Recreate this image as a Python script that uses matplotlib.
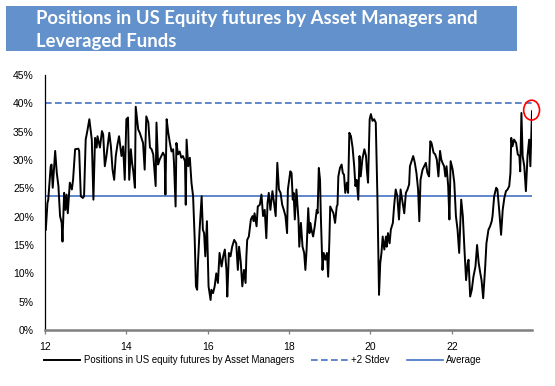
"""
Positions in US equity futures by asset managers and leveraged funds,
with long run average and +2 stdev band.
"""
import matplotlib
matplotlib.use("Agg")
import matplotlib.pyplot as plt
from matplotlib.patches import Ellipse, Rectangle

# Data ------------------------------------------------------------------------

dates = [
    2012.02, 2012.06, 2012.08, 2012.14, 2012.16, 2012.19, 2012.25, 2012.29,
    2012.33, 2012.37, 2012.41, 2012.43, 2012.47, 2012.50, 2012.53, 2012.56,
    2012.61, 2012.66, 2012.69, 2012.74, 2012.82, 2012.84, 2012.88, 2012.93,
    2012.96, 2013.00, 2013.04, 2013.09, 2013.15, 2013.19, 2013.23, 2013.27,
    2013.29, 2013.35, 2013.40, 2013.43, 2013.47, 2013.51, 2013.58, 2013.62,
    2013.66, 2013.70, 2013.74, 2013.78, 2013.82, 2013.88, 2013.92, 2013.96,
    2014.00, 2014.04, 2014.07, 2014.11, 2014.14, 2014.17, 2014.21, 2014.23,
    2014.29, 2014.33, 2014.37, 2014.41, 2014.45, 2014.49, 2014.54, 2014.58,
    2014.62, 2014.66, 2014.72, 2014.74, 2014.78, 2014.82, 2014.86, 2014.90,
    2014.94, 2014.96, 2014.99, 2015.03, 2015.07, 2015.11, 2015.15, 2015.17,
    2015.21, 2015.23, 2015.27, 2015.31, 2015.35, 2015.39, 2015.44, 2015.46,
    2015.48, 2015.52, 2015.56, 2015.60, 2015.64, 2015.68, 2015.71, 2015.74,
    2015.76, 2015.80, 2015.85, 2015.88, 2015.91, 2015.94, 2015.98, 2016.02,
    2016.07, 2016.09, 2016.13, 2016.17, 2016.21, 2016.25, 2016.29, 2016.34,
    2016.38, 2016.42, 2016.46, 2016.48, 2016.52, 2016.56, 2016.60, 2016.65,
    2016.70, 2016.74, 2016.77, 2016.81, 2016.85, 2016.89, 2016.93, 2016.95,
    2016.97, 2017.01, 2017.06, 2017.10, 2017.13, 2017.15, 2017.20, 2017.23,
    2017.28, 2017.32, 2017.36, 2017.40, 2017.44, 2017.47, 2017.50, 2017.54,
    2017.59, 2017.63, 2017.67, 2017.71, 2017.75, 2017.79, 2017.83, 2017.87,
    2017.91, 2017.95, 2017.97, 2018.03, 2018.06, 2018.09, 2018.11, 2018.14,
    2018.18, 2018.23, 2018.25, 2018.29, 2018.33, 2018.37, 2018.40, 2018.43,
    2018.47, 2018.50, 2018.52, 2018.55, 2018.59, 2018.63, 2018.68, 2018.70,
    2018.73, 2018.76, 2018.78, 2018.82, 2018.85, 2018.89, 2018.93, 2018.96,
    2018.99, 2019.01, 2019.05, 2019.09, 2019.13, 2019.17, 2019.19, 2019.21,
    2019.25, 2019.29, 2019.32, 2019.35, 2019.38, 2019.42, 2019.45, 2019.48,
    2019.52, 2019.56, 2019.60, 2019.63, 2019.66, 2019.70, 2019.73, 2019.76,
    2019.80, 2019.85, 2019.89, 2019.91, 2019.94, 2019.98, 2020.01, 2020.05,
    2020.09, 2020.13, 2020.17, 2020.21, 2020.24, 2020.27, 2020.30, 2020.34,
    2020.38, 2020.40, 2020.43, 2020.47, 2020.50, 2020.55, 2020.58, 2020.62,
    2020.66, 2020.70, 2020.74, 2020.79, 2020.83, 2020.87, 2020.91, 2020.95,
    2020.97, 2021.01, 2021.05, 2021.09, 2021.13, 2021.17, 2021.20, 2021.23,
    2021.28, 2021.32, 2021.36, 2021.40, 2021.44, 2021.47, 2021.50, 2021.55,
    2021.59, 2021.63, 2021.67, 2021.71, 2021.74, 2021.77, 2021.81, 2021.84,
    2021.87, 2021.91, 2021.94, 2021.97, 2022.02, 2022.06, 2022.10, 2022.14,
    2022.18, 2022.23, 2022.27, 2022.31, 2022.35, 2022.39, 2022.41, 2022.45,
    2022.49, 2022.53, 2022.58, 2022.62, 2022.66, 2022.70, 2022.73, 2022.77,
    2022.82, 2022.85, 2022.90, 2022.94, 2022.98, 2023.00, 2023.04, 2023.09,
    2023.12, 2023.17, 2023.21, 2023.25, 2023.29, 2023.33, 2023.37, 2023.41,
    2023.44, 2023.46, 2023.49, 2023.53, 2023.58, 2023.62, 2023.66, 2023.68,
    2023.71, 2023.74, 2023.78, 2023.82, 2023.86, 2023.90, 2023.93, 2023.97,
]

positions = [
    17.7, 22.4, 23.0, 28.9, 29.2, 25.1, 31.6, 27.7,
    25.4, 20.1, 18.9, 15.6, 24.2, 21.2, 23.9, 20.6,
    26.0, 24.8, 26.5, 31.9, 32.0, 31.6, 23.6, 23.3,
    23.6, 33.6, 35.1, 37.2, 33.6, 23.0, 33.9, 32.2,
    34.2, 32.2, 35.1, 34.5, 28.9, 30.7, 34.8, 32.4,
    28.3, 26.5, 30.7, 32.7, 34.2, 30.7, 32.4, 26.5,
    37.2, 37.5, 26.5, 31.9, 29.5, 28.0, 25.1, 39.4,
    35.4, 34.8, 33.9, 33.0, 28.3, 37.7, 36.6, 32.2,
    31.9, 31.0, 25.4, 36.6, 29.2, 30.1, 30.7, 31.3,
    30.7, 23.9, 37.2, 34.8, 33.0, 31.5, 31.9, 29.5,
    21.8, 33.0, 31.0, 31.5, 30.4, 30.7, 29.8, 22.1,
    33.6, 28.9, 30.4, 26.0, 23.6, 15.9, 7.7, 7.1,
    11.8, 17.7, 23.6, 17.7, 17.1, 13.0, 19.2, 7.7,
    5.3, 7.1, 6.5, 7.7, 10.0, 8.3, 13.6, 11.2,
    13.0, 14.2, 10.6, 5.9, 13.6, 13.0, 14.7, 15.9,
    15.3, 10.6, 14.7, 12.1, 7.7, 10.6, 8.3, 13.0,
    15.9, 16.5, 19.5, 20.1, 19.2, 20.6, 18.3, 21.8,
    22.1, 23.9, 20.1, 21.2, 16.2, 22.4, 24.2, 21.2,
    24.5, 22.4, 20.1, 29.5, 24.8, 24.2, 22.1, 21.2,
    20.1, 17.1, 24.8, 28.0, 27.7, 23.0, 24.2, 19.5,
    24.8, 19.5, 14.7, 18.9, 14.7, 13.6, 10.6, 14.2,
    21.5, 17.1, 18.9, 17.7, 16.5, 18.3, 21.2, 20.6,
    28.6, 26.5, 20.1, 10.6, 13.6, 12.4, 13.6, 9.4,
    15.9, 21.8, 21.2, 20.6, 18.9, 21.8, 22.1, 27.1,
    28.6, 29.2, 27.7, 27.4, 24.2, 26.0, 24.2, 34.8,
    34.2, 32.2, 28.9, 25.4, 26.5, 23.0, 30.7, 27.1,
    30.1, 31.9, 30.7, 28.3, 26.0, 37.2, 38.1, 36.9,
    37.2, 36.6, 23.6, 6.2, 11.8, 13.6, 16.5, 14.2,
    16.5, 14.7, 17.1, 15.3, 17.7, 18.9, 21.8, 24.8,
    23.6, 19.5, 24.8, 22.4, 20.6, 24.2, 24.8, 25.7,
    28.9, 29.8, 30.7, 29.5, 27.7, 24.8, 19.2, 26.5,
    28.3, 28.9, 29.5, 27.7, 27.1, 33.3, 33.0, 31.3,
    31.0, 30.1, 27.1, 31.6, 30.1, 29.5, 28.9, 27.1,
    28.9, 25.4, 19.5, 29.8, 28.3, 26.0, 20.1, 17.7,
    13.6, 23.0, 20.1, 14.2, 8.8, 11.8, 12.4, 5.9,
    7.1, 9.4, 11.2, 15.0, 11.8, 10.0, 8.8, 5.6,
    11.2, 15.3, 17.7, 18.3, 19.2, 20.1, 23.6, 25.1,
    24.8, 20.6, 16.8, 21.2, 23.3, 24.5, 24.8, 25.4,
    27.7, 33.9, 32.4, 33.6, 33.0, 31.0, 30.7, 28.0,
    38.3, 30.7, 28.9, 24.5, 30.7, 33.6, 28.9, 38.6,
]

AVERAGE = 23.7
PLUS_2_STDEV = 40.0

TITLE_LINES = ["Positions in US Equity futures by Asset Managers and",
               "Leveraged Funds"]
SERIES_LABEL = "Positions in US equity futures by Asset Managers"
STDEV_LABEL = "+2 Stdev"
AVERAGE_LABEL = "Average"

x_ticks = [2012, 2014, 2016, 2018, 2020, 2022]
x_tick_labels = ["12", "14", "16", "18", "20", "22"]
y_ticks = [0, 5, 10, 15, 20, 25, 30, 35, 40, 45]
y_tick_labels = ["{}%".format(v) for v in y_ticks]

# Plot ------------------------------------------------------------------------

LINE_BLUE = "#4472C4"
BANNER_BLUE = "#6391CB"
TITLE_WIDTH_PX = 442

plt.rcParams["font.family"] = ["Liberation Sans", "DejaVu Sans"]

fig = plt.figure(figsize=(5.55, 3.86), dpi=100)

# title banner
fig.patches.append(Rectangle((6 / 555, 1 - 51 / 386), 511 / 555, 45 / 386,
                             transform=fig.transFigure, facecolor=BANNER_BLUE,
                             edgecolor="none", zorder=0))
title_1 = fig.text(36 / 555, 1 - 24 / 386, TITLE_LINES[0], color="white",
                   fontsize=13, fontweight="bold",
                   family=["Lato", "DejaVu Sans"], va="baseline", ha="left")
title_2 = fig.text(36 / 555, 1 - 47.5 / 386, TITLE_LINES[1], color="white",
                   fontsize=13, fontweight="bold",
                   family=["Lato", "DejaVu Sans"], va="baseline", ha="left")
# size the bold title so the first line spans the banner like the original
renderer = fig.canvas.get_renderer()
width = title_1.get_window_extent(renderer).width
title_size = 13 * TITLE_WIDTH_PX / width
title_1.set_fontsize(title_size)
title_2.set_fontsize(title_size)

ax = fig.add_axes([45 / 555, 1 - 330 / 386, 487 / 555, 255 / 386])

ax.plot(dates, positions, color="black", lw=1.4, label=SERIES_LABEL,
        zorder=3)
ax.axhline(PLUS_2_STDEV, color=LINE_BLUE, lw=1.2, dashes=(4, 2),
           label=STDEV_LABEL, zorder=2)
ax.axhline(AVERAGE, color=LINE_BLUE, lw=1.2, label=AVERAGE_LABEL, zorder=2)

# highlight latest reading
ax.add_patch(Ellipse((dates[-1] - 0.01, positions[-1] + 0.2), 0.39, 3.5,
                     fill=False, edgecolor="red", lw=1.2, clip_on=False,
                     zorder=4))

ax.set_xlim(2012, dates[-1])
ax.set_ylim(0, 45)
ax.set_xticks(x_ticks)
ax.set_xticklabels(x_tick_labels)
ax.set_yticks(y_ticks)
ax.set_yticklabels(y_tick_labels)

ax.spines["top"].set_visible(False)
ax.spines["right"].set_visible(False)
ax.spines["left"].set_color("black")
ax.spines["left"].set_linewidth(0.9)
ax.spines["bottom"].set_color("#7f7f7f")
ax.spines["bottom"].set_linewidth(1.8)
ax.tick_params(axis="y", length=0, pad=8, labelsize=7.5)
ax.tick_params(axis="x", length=3, width=0.9, color="#7f7f7f", pad=6,
               labelsize=7.5)

fig.legend(loc="center", bbox_to_anchor=(263 / 555, 1 - 360 / 386), ncol=3,
           frameon=False, fontsize=6.9, handlelength=3.8, handletextpad=0.35,
           columnspacing=1.8)

fig.savefig("out.png", dpi=100)
